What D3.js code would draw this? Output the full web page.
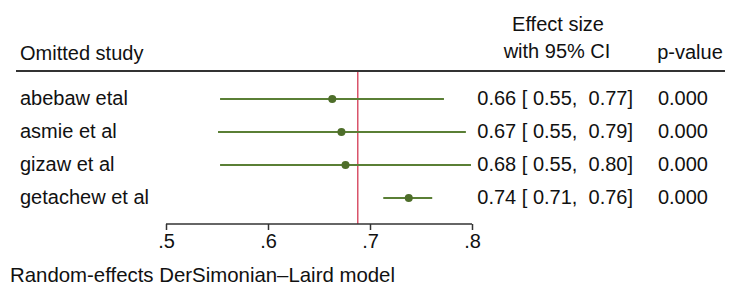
<!DOCTYPE html>
<html>
<head>
<meta charset="utf-8">
<script src="https://cdn.jsdelivr.net/npm/d3@7"></script>
<style>
  body { margin: 0; background: #fff; }
  text { font-family: "Liberation Sans", Arial, sans-serif; fill: #111; }
</style>
</head>
<body>
<svg id="chart" width="744" height="302"></svg>
<script>
const studies = ["abebaw etal", "asmie et al", "gizaw et al", "getachew et al"];
const effect = [0.663, 0.672, 0.676, 0.738];
const lower = [0.553, 0.551, 0.553, 0.713];
const upper = [0.7725, 0.794, 0.799, 0.761];
const ciLabels = ["0.66 [ 0.55,  0.77]", "0.67 [ 0.55,  0.79]", "0.68 [ 0.55,  0.80]", "0.74 [ 0.71,  0.76]"];
const pValues = ["0.000", "0.000", "0.000", "0.000"];
const overall = 0.688;
const ticks = [0.5, 0.6, 0.7, 0.8];

const svg = d3.select("#chart");

const x = d3.scaleLinear().domain([0.5, 0.8]).range([166, 472]);
const y = d3.scalePoint().domain(studies).range([99, 198]);

// header
svg.append("text").attr("x", 20).attr("y", 60).style("font-size", "20px").text("Omitted study");
svg.append("text").attr("x", 558).attr("y", 31).attr("text-anchor", "middle").style("font-size", "20px").text("Effect size");
svg.append("text").attr("x", 557).attr("y", 58).attr("text-anchor", "middle").style("font-size", "20px").text("with 95% CI");
svg.append("text").attr("x", 690).attr("y", 59).attr("text-anchor", "middle").style("font-size", "20px").text("p-value");

svg.append("line")
  .attr("x1", 16).attr("x2", 725).attr("y1", 71).attr("y2", 71)
  .attr("stroke", "#333").attr("stroke-width", 2);

// overall effect line
svg.append("line")
  .attr("x1", x(overall)).attr("x2", x(overall))
  .attr("y1", 72).attr("y2", 224)
  .attr("stroke", "#d9536a").attr("stroke-width", 1.5);

// rows
const rows = svg.selectAll("g.row")
  .data(studies)
  .join("g")
  .attr("class", "row");

rows.append("text")
  .attr("x", 20).attr("y", d => y(d) + 6)
  .style("font-size", "20px")
  .text(d => d);

rows.append("line")
  .attr("x1", (d, i) => x(lower[i])).attr("x2", (d, i) => x(upper[i]))
  .attr("y1", d => y(d)).attr("y2", d => y(d))
  .attr("stroke", "#5a7f35").attr("stroke-width", 2);

rows.append("circle")
  .attr("cx", (d, i) => x(effect[i])).attr("cy", d => y(d))
  .attr("r", 4)
  .attr("fill", "#4e6e2a");

rows.append("text")
  .attr("x", 633).attr("y", d => y(d) + 6)
  .attr("text-anchor", "end")
  .style("white-space", "pre")
  .style("font-size", "20px")
  .text((d, i) => ciLabels[i]);

rows.append("text")
  .attr("x", 708).attr("y", d => y(d) + 6)
  .attr("text-anchor", "end")
  .style("font-size", "20px")
  .text((d, i) => pValues[i]);

// axis
const axis = d3.axisBottom(x)
  .tickValues(ticks)
  .tickSize(-6)
  .tickPadding(0)
  .tickFormat(d => d3.format(".1f")(d).replace(/^0/, ""));

const ax = svg.append("g").attr("transform", "translate(0,224)").call(axis);
ax.select(".domain").remove();
ax.append("line").attr("x1", x(0.5)).attr("x2", x(0.8)).attr("stroke", "#333").attr("stroke-width", 1.5);
ax.selectAll(".tick line").attr("y1", 0).attr("y2", 6).attr("stroke", "#333").attr("stroke-width", 1.5);
ax.selectAll(".tick text")
  .attr("y", 24).attr("dy", 0)
  .style("font-size", "20px")
  .style("font-family", "'Liberation Sans', Arial, sans-serif")
  .attr("fill", "#111");

svg.append("text").attr("x", 10).attr("y", 282).style("font-size", "20.4px")
  .text("Random-effects DerSimonian\u2013Laird model");
</script>
</body>
</html>
